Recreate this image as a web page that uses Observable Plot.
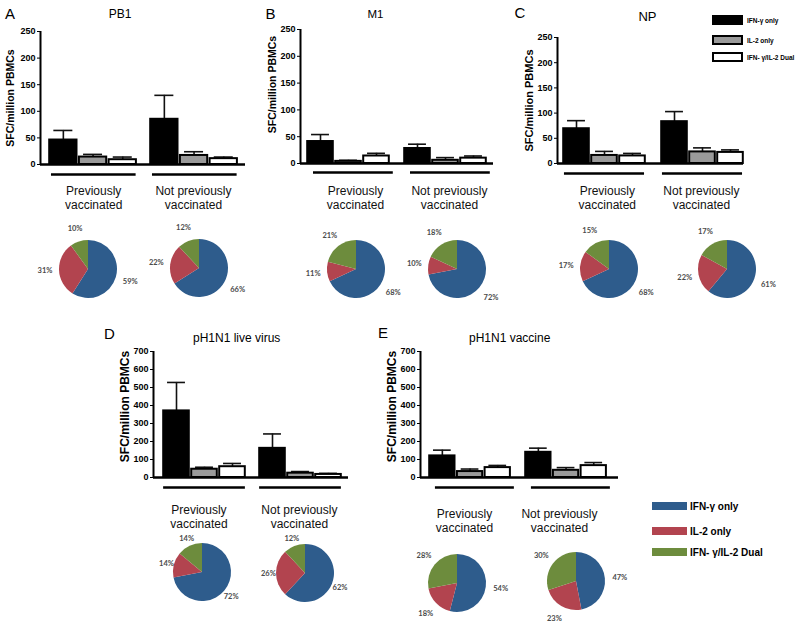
<!DOCTYPE html>
<html><head><meta charset="utf-8">
<script src="https://cdn.jsdelivr.net/npm/d3@7"></script>
<script src="https://cdn.jsdelivr.net/npm/@observablehq/plot@0.6"></script>
<style>
body{margin:0;background:#fff;}
#fig{position:relative;width:800px;height:623px;overflow:hidden;background:#fff;font-family:"Liberation Sans",Arial,sans-serif;color:#000;}
.c{position:absolute;transform:translate(-50%,-50%);white-space:nowrap;}
.l{position:absolute;transform:translate(0,-50%);white-space:nowrap;}
</style></head><body><div id="fig"></div>
<script>
// ---------- data ----------
const categories = ["IFN-γ only", "IL-2 only", "IFN- γ/IL-2 Dual"];
const groups = ["Previously vaccinated", "Not previously vaccinated"];
const groupLabels = ["Previously\nvaccinated", "Not previously\nvaccinated"];
const panelLetters = ["A", "B", "C", "D", "E"];
const panelNames = ["PB1", "M1", "NP", "pH1N1 live virus", "pH1N1 vaccine"];
const yLabel = "SFC/million PBMCs";
const ticksSmall = [0, 50, 100, 150, 200, 250];
const ticksLarge = [0, 100, 200, 300, 400, 500, 600, 700];

// bar means (order: prev IFN, prev IL-2, prev dual, notprev IFN, notprev IL-2, notprev dual)
const pb1Mean = [46, 14, 9, 85, 17, 11];
const pb1Sem  = [18, 5, 5, 45, 7, 3];
const m1Mean  = [41, 4, 14, 28, 6, 10];
const m1Sem   = [13, 2, 5, 8, 5, 4];
const npMean  = [69, 16, 15, 83, 23, 22];
const npSem   = [16, 8, 5, 20, 8, 5];
const liveMean = [370, 46, 60, 162, 24, 17];
const liveSem  = [158, 11, 18, 80, 9, 6];
const vacMean  = [120, 33, 55, 140, 40, 66];
const vacSem   = [32, 14, 12, 23, 15, 17];

// pie percentages [IFN-γ only, IL-2 only, dual] for [prev, notprev]
const pb1Pie  = [[59, 31, 10], [66, 22, 12]];
const m1Pie   = [[68, 11, 21], [72, 10, 18]];
const npPie   = [[68, 17, 15], [61, 22, 17]];
const livePie = [[72, 14, 14], [62, 26, 12]];
const vacPie  = [[54, 18, 28], [47, 23, 30]];

// ---------- styles / layout ----------
const barFills = ["#000000", "#9a9a9a", "#ffffff"];
const pieColors = ["#2e5c8c", "#b2444f", "#6d8c3d"];
const fig = document.getElementById("fig");

function place(node, left, top) {
  const d = document.createElement("div");
  d.style.cssText = `position:absolute;left:${left}px;top:${top}px;`;
  d.appendChild(node);
  fig.appendChild(d);
}
function text(t, x, y, css, cls = "c") {
  const d = document.createElement("div");
  d.className = cls;
  d.style.cssText += `left:${x}px;top:${y}px;` + css;
  d.textContent = t;
  fig.appendChild(d);
}

const layouts = [
  {axisX: 40, yTop: 31, y0: 164, end: 245, bar0: 48, barW: 29.7, g2: 149, ul: [0.1, 2.95], ulDy: 10, lx: [1.52, 1.48], ldy: 33, mB: 52, tdx: -30, tdy: 0, tfs: 10.5},
  {axisX: 300, yTop: 29, y0: 163, end: 493, bar0: 306, barW: 28, g2: 403, ul: [0.25, 3.1], ulDy: 9, lx: [1.75, 1.64], ldy: 34, mB: 52, tdx: -28, tdy: -12, tfs: 10.5},
  {axisX: 557, yTop: 37, y0: 163, end: 743, bar0: 562, barW: 28, g2: 660, ul: [0.07, 2.93], ulDy: 10, lx: [1.6, 1.46], ldy: 34, mB: 52, tdx: -28, tdy: 0, tfs: 11},
  {axisX: 153, yTop: 351, y0: 477, end: 348, bar0: 162, barW: 28, g2: 258, ul: [0.04, 2.96], ulDy: 10, lx: [1.3, 1.46], ldy: 39, mB: 54, tdx: -28, tdy: -8, tfs: 12},
  {axisX: 420, yTop: 351, y0: 477, end: 618, bar0: 428, barW: 27.7, g2: 524, ul: [0.25, 3.1], ulDy: 10, lx: [1.3, 1.26], ldy: 43, mB: 59, tdx: -28, tdy: -8, tfs: 12}
];

const baseStyle = {background: "transparent", overflow: "visible", fontFamily: "'Liberation Sans', Arial, sans-serif", fontSize: "9px", fontWeight: "bold", color: "#000"};

function barPanel(mean, sem, L, yMax, ticks) {
  const gap = (L.g2 - L.bar0) / L.barW - 3;
  const xmin = (L.axisX - L.bar0) / L.barW;
  const xmax = (L.end - L.bar0) / L.barW;
  const rows = mean.map((v, i) => {
    const g = Math.floor(i / 3), c = i % 3;
    return {group: groups[g], cat: categories[c], v, top: v + sem[i], pos: g * (3 + gap) + c};
  });
  const grp = groupLabels.map((t, g) => ({t, start: g * (3 + gap), lx: g * (3 + gap) + L.lx[g]}));
  const mL = 40, mR = 6, mT = 10, mB = L.mB;
  const h = L.y0 - L.yTop;
  const cap = 0.32;
  const chart = Plot.plot({
    width: mL + (L.end - L.axisX) + mR,
    height: mT + h + mB,
    marginLeft: mL, marginRight: mR, marginTop: mT, marginBottom: mB,
    x: {domain: [xmin, xmax], axis: null},
    y: {domain: [0, yMax], ticks, tickSize: 3, tickPadding: 2, label: null},
    color: {domain: categories, range: barFills},
    style: baseStyle,
    marks: [
      Plot.ruleX(rows, {x: d => d.pos + 0.5, y1: "v", y2: "top", stroke: "#111", strokeWidth: 1.6}),
      Plot.ruleY(rows, {y: "top", x1: d => d.pos + 0.5 - cap, x2: d => d.pos + 0.5 + cap, stroke: "#111", strokeWidth: 1.6}),
      Plot.rect(rows, {x1: "pos", x2: d => d.pos + 1, y1: () => 0, y2: "v", fill: "cat", stroke: "#000", strokeWidth: 2, insetLeft: 1.2, insetRight: 1.2}),
      Plot.ruleY([0], {stroke: "#000", strokeWidth: 2.4}),
      Plot.ruleX([xmin], {y1: () => 0, y2: () => yMax, stroke: "#000", strokeWidth: 2}),
      Plot.ruleY(grp, {y: () => 0, x1: d => d.start + L.ul[0], x2: d => d.start + L.ul[1], dy: L.ulDy, stroke: "#000", strokeWidth: 2.6}),
      Plot.text(grp, {x: "lx", y: () => 0, text: "t", dy: L.ldy, fontSize: 12, fontWeight: "normal", lineHeight: 1.17, lineAnchor: "middle", fill: "#111"}),
      Plot.text([yLabel], {frameAnchor: "left", textAnchor: "middle", rotate: -90, dx: L.tdx, dy: L.tdy, fontSize: L.tfs, fontWeight: "bold"})
    ]
  });
  place(chart, L.axisX - mL, L.yTop - mT);
}

function piePanel(values, cx, cy, lr = 1.5) {
  const r = 29, W = 100, H = 70;
  const rows = values.map((v, i) => ({cat: categories[i], v, label: v + "%"}));
  const arcs = d3.pie().sort(null).value(d => d.v)(rows);
  const labels = arcs.map(a => {
    const m = (a.startAngle + a.endAngle) / 2;
    return {...a.data, lx: lr * Math.sin(m), ly: lr * Math.cos(m)};
  });
  const wedges = (index, scales, vals, dim) => {
    const sx = scales && scales.x, sy = scales && scales.y;
    const x0 = sx ? sx(0) : dim.width / 2, y0 = sy ? sy(0) : dim.height / 2;
    const rad = sx ? sx(1) - sx(0) : r;
    const g = d3.create("svg:g").attr("transform", `translate(${x0},${y0})`);
    const arc = d3.arc().innerRadius(0).outerRadius(rad);
    g.selectAll("path").data(arcs).join("path")
      .attr("d", arc)
      .attr("fill", d => pieColors[categories.indexOf(d.data.cat)]);
    return g.node();
  };
  const chart = Plot.plot({
    width: W, height: H, margin: 0,
    x: {domain: [-W / 2 / r, W / 2 / r], axis: null},
    y: {domain: [-H / 2 / r, H / 2 / r], axis: null},
    style: baseStyle,
    marks: [
      wedges,
      Plot.text(labels, {x: "lx", y: "ly", text: "label", fontSize: 7.5, fontWeight: "bold", fill: "#4a4a4a", fontFamily: "Lato, 'Open Sans', sans-serif"})
    ]
  });
  place(chart, cx - W / 2, cy - H / 2);
}

// ---------- draw ----------
barPanel(pb1Mean, pb1Sem, layouts[0], 250, ticksSmall);
barPanel(m1Mean, m1Sem, layouts[1], 250, ticksSmall);
barPanel(npMean, npSem, layouts[2], 250, ticksSmall);
barPanel(liveMean, liveSem, layouts[3], 700, ticksLarge);
barPanel(vacMean, vacSem, layouts[4], 700, ticksLarge);

piePanel(pb1Pie[0], 88, 269);  piePanel(pb1Pie[1], 199, 268);
piePanel(m1Pie[0], 356, 269);  piePanel(m1Pie[1], 457, 269);
piePanel(npPie[0], 609, 269);  piePanel(npPie[1], 727, 269);
piePanel(livePie[0], 202, 572, 1.28); piePanel(livePie[1], 305, 573, 1.28);
piePanel(vacPie[0], 457, 583); piePanel(vacPie[1], 576, 581);

// panel letters & titles
text(panelLetters[0], 10, 12.5, "font-size:15px;");
text(panelNames[0], 120, 13.5, "font-size:12px;");
text(panelLetters[1], 270.5, 12.5, "font-size:15px;");
text(panelNames[1], 375.5, 14, "font-size:11.5px;");
text(panelLetters[2], 520, 12, "font-size:15px;");
text(panelNames[2], 647.5, 16, "font-size:13px;");
text(panelLetters[3], 109.5, 332.5, "font-size:15px;");
text(panelNames[3], 193, 338, "font-size:12px;", "l");
text(panelLetters[4], 383, 331.5, "font-size:15px;");
text(panelNames[4], 469, 338, "font-size:12px;", "l");

// legend 1 (bars)
const leg1Y = [20, 40, 57];
categories.forEach((c, i) => {
  const s = document.createElement("div");
  s.style.cssText = `position:absolute;left:712px;top:${leg1Y[i] - 5}px;width:31px;height:10px;box-sizing:border-box;border:2px solid #000;background:${barFills[i]};`;
  fig.appendChild(s);
  text(c, 747, leg1Y[i], "font-size:6.5px;font-weight:bold;", "l");
});
// legend 2 (pies)
const leg2Y = [506, 530.5, 552];
categories.forEach((c, i) => {
  const s = document.createElement("div");
  s.style.cssText = `position:absolute;left:652px;top:${leg2Y[i] - 4}px;width:35px;height:8px;background:${pieColors[i]};`;
  fig.appendChild(s);
  text(c, 690, leg2Y[i], "font-size:10px;font-weight:bold;", "l");
});
</script></body></html>
